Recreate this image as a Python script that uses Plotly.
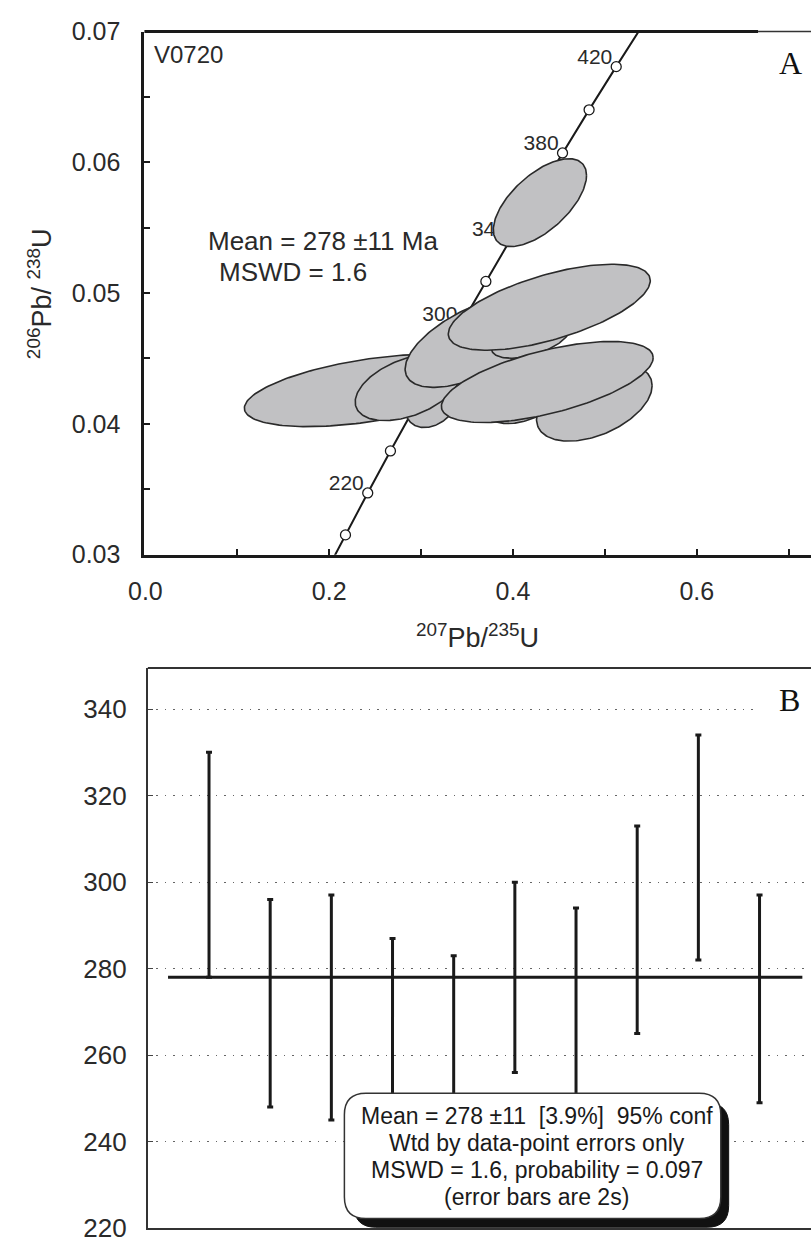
import numpy as np
import plotly.graph_objects as go

W, H = 811, 1252

# ---------------- Panel A data ----------------
# Wetherill concordia reference points (age in Ma)
conc_age = [180, 200, 220, 240, 260, 280, 300, 320, 340, 360, 380, 400, 420, 440]
conc_x = [0.19396, 0.21771, 0.24193, 0.26664, 0.29183, 0.31753, 0.34374,
          0.37047, 0.39773, 0.42553, 0.45389, 0.48281, 0.51231, 0.54239]
conc_y = [0.028316, 0.031511, 0.034716, 0.037932, 0.041157, 0.044392, 0.047637,
          0.050893, 0.054158, 0.057433, 0.060719, 0.064015, 0.067321, 0.070637]
marker_ages = [200, 220, 240, 260, 280, 300, 320, 340, 360, 380, 400, 420]
label_ages = [220, 260, 300, 340, 380, 420]

# Error ellipses (drawing order): centre, half-extent in x / y, correlation
ell_x = [0.2432, 0.3125, 0.2859, 0.3605, 0.4192, 0.4139, 0.4395, 0.4885, 0.4373, 0.4293]
ell_y = [0.04256, 0.04181, 0.04279, 0.04630, 0.04652, 0.04256, 0.04892, 0.04163, 0.04320, 0.05692]
ell_sx = [0.1355, 0.0299, 0.0576, 0.0779, 0.0427, 0.0480, 0.1099, 0.0629, 0.1152, 0.0507]
ell_sy = [0.00277, 0.00209, 0.00254, 0.00351, 0.00150, 0.00254, 0.00329, 0.00295, 0.00310, 0.00336]
ell_rho = [0.49, 0.30, 0.44, 0.60, 0.50, 0.40, 0.62, 0.44, 0.60, 0.62]

# ---------------- Panel B data ----------------
spot = [1, 2, 3, 4, 5, 6, 7, 8, 9, 10]
age = [304, 272, 271, 264, 260, 278, 270, 289, 308, 273]
err2s = [26, 24, 26, 23, 23, 22, 24, 24, 26, 24]
mean_age = 278
b_ticks = [220, 240, 260, 280, 300, 320, 340]

FONT = "Liberation Sans, Arial, sans-serif"
SERIF = "Liberation Serif, Times New Roman, serif"
INK = "#1a1a1a"
TXT = "#2a2a2a"


def px(x):
    return x / W


def py(y):
    return 1 - y / H


fig = go.Figure()

# concordia line
fig.add_trace(go.Scatter(x=conc_x, y=conc_y, mode="lines",
                         line=dict(color=INK, width=2), xaxis="x", yaxis="y",
                         hoverinfo="skip", showlegend=False))
mx = [conc_x[conc_age.index(a)] for a in marker_ages]
my = [conc_y[conc_age.index(a)] for a in marker_ages]
fig.add_trace(go.Scatter(x=mx, y=my, mode="markers",
                         marker=dict(symbol="circle", size=10, color="white",
                                     line=dict(color=INK, width=1.3)),
                         xaxis="x", yaxis="y", hoverinfo="skip", showlegend=False))
# age labels (just left of / above each marker)
lx = [conc_x[conc_age.index(a)] - 4 / 937.5 for a in label_ages]
ly = [conc_y[conc_age.index(a)] + 8 / 13375 for a in label_ages]
fig.add_trace(go.Scatter(x=lx, y=ly, mode="text", text=[str(a) for a in label_ages],
                         textposition="middle left",
                         textfont=dict(family=FONT, size=21, color=TXT),
                         xaxis="x", yaxis="y", hoverinfo="skip", showlegend=False))

# ellipses
t = np.linspace(0, 2 * np.pi, 181)
for cx, cy, sx, sy, r in zip(ell_x, ell_y, ell_sx, ell_sy, ell_rho):
    ex = cx + sx * np.cos(t)
    ey = cy + sy * (r * np.cos(t) + np.sqrt(1 - r * r) * np.sin(t))
    fig.add_trace(go.Scatter(x=ex, y=ey, mode="lines", fill="toself",
                             fillcolor="#c1c1c3", line=dict(color="#2a2a2a", width=1.6),
                             xaxis="x", yaxis="y", hoverinfo="skip", showlegend=False))

# ---------------- Panel B traces ----------------
fig.add_trace(go.Scatter(x=[0.33, 10.7], y=[mean_age, mean_age], mode="lines",
                         line=dict(color=INK, width=3), xaxis="x2", yaxis="y2",
                         hoverinfo="skip", showlegend=False))
fig.add_trace(go.Scatter(x=spot, y=age, mode="markers",
                         marker=dict(size=1, color="rgba(0,0,0,0)"),
                         error_y=dict(type="data", array=err2s, symmetric=True,
                                      color=INK, thickness=3, width=3),
                         xaxis="x2", yaxis="y2", hoverinfo="skip", showlegend=False))

# ---------------- Layout ----------------
ax_a_left, ax_a_top, ax_a_bottom = 131, 18, 553
ax_b_left, ax_b_top, ax_b_bottom = 134.5, 669, 1242

xa_range = [-1 / 937.5, (W - 132) / 937.5]
xb_range = [0, (W - ax_b_left) / 62.4]
yb_top = 220 + (ax_b_bottom - ax_b_top) / 4.425

fig.update_layout(
    width=W, height=H, margin=dict(l=0, r=0, t=0, b=0),
    paper_bgcolor="white", plot_bgcolor="white", showlegend=False,
    xaxis=dict(domain=[px(ax_a_left), 1], range=xa_range, anchor="y",
               tickmode="linear", tick0=0, dtick=0.2, tickformat=".1f",
               ticks="inside", ticklen=6, tickwidth=1.5, tickcolor=INK,
               minor=dict(tick0=0, dtick=0.1, ticks="inside", ticklen=6,
                          tickwidth=1.5, tickcolor=INK, showgrid=False),
               showline=True, linewidth=3, linecolor=INK, showgrid=False, zeroline=False,
               ticklabelstandoff=12,
               tickfont=dict(family=FONT, size=25, color=TXT)),
    yaxis=dict(domain=[py(ax_a_bottom), py(ax_a_top)], range=[0.03, 0.07], anchor="x",
               tickmode="linear", tick0=0.03, dtick=0.01, tickformat=".2f",
               ticks="inside", ticklen=6, tickwidth=1.5, tickcolor=INK,
               minor=dict(tick0=0.03, dtick=0.005, ticks="inside", ticklen=6,
                          tickwidth=1.5, tickcolor=INK, showgrid=False),
               showline=True, linewidth=3, linecolor=INK, showgrid=False, zeroline=False,
               ticklabelstandoff=16,
               tickfont=dict(family=FONT, size=25, color=TXT)),
    xaxis2=dict(domain=[px(ax_b_left), 1], range=xb_range, anchor="y2",
                showticklabels=False, ticks="", showgrid=False, zeroline=False,
                showline=True, linewidth=2, linecolor="#333"),
    yaxis2=dict(domain=[py(ax_b_bottom), py(ax_b_top)], range=[220, yb_top], anchor="x2",
                tickvals=b_ticks, ticks="inside", ticklen=5, tickwidth=1.2, tickcolor="#444",
                showline=True, linewidth=2, linecolor="#333", zeroline=False,
                showgrid=True, gridcolor="#666", gridwidth=1.3, griddash="1.5px,7px",
                ticklabelstandoff=14,
                tickfont=dict(family=FONT, size=26, color=TXT)),
)

shapes = []
# panel A top border (thick part, then thin part by the "A" label)
shapes.append(dict(type="line", xref="paper", yref="paper", x0=px(ax_a_left), x1=px(757),
                   y0=py(ax_a_top), y1=py(ax_a_top), line=dict(color=INK, width=3)))
shapes.append(dict(type="line", xref="paper", yref="paper", x0=px(757), x1=1,
                   y0=py(ax_a_top), y1=py(ax_a_top), line=dict(color="#333", width=1.5)))
# panel B top border
shapes.append(dict(type="line", xref="paper", yref="paper", x0=px(ax_b_left), x1=1,
                   y0=py(ax_b_top), y1=py(ax_b_top), line=dict(color="#333", width=2)))
# white patch behind the "B" label (hides the end of the 340 grid line)
shapes.append(dict(type="rect", xref="paper", yref="paper", x0=px(756), x1=1,
                   y0=py(728), y1=py(672), fillcolor="white", line=dict(width=0),
                   layer="above"))


def rounded_path(x0, y0, x1, y1, r):
    # pixel coordinates -> paper path with rounded corners
    rx, ry = r / W, r / H
    X0, X1 = px(x0), px(x1)
    Y0, Y1 = py(y0), py(y1)  # Y0 top (larger), Y1 bottom
    return (f"M {X0 + rx},{Y0} L {X1 - rx},{Y0} Q {X1},{Y0} {X1},{Y0 - ry} "
            f"L {X1},{Y1 + ry} Q {X1},{Y1} {X1 - rx},{Y1} "
            f"L {X0 + rx},{Y1} Q {X0},{Y1} {X0},{Y1 + ry} "
            f"L {X0},{Y0 - ry} Q {X0},{Y0} {X0 + rx},{Y0} Z")


# statistics box: shadow then box
shapes.append(dict(type="path", xref="paper", yref="paper",
                   path=rounded_path(345, 1114, 727, 1241, 22),
                   fillcolor="#111", line=dict(color="#111", width=1), layer="above"))
shapes.append(dict(type="path", xref="paper", yref="paper",
                   path=rounded_path(335, 1104, 719, 1232, 22),
                   fillcolor="white", line=dict(color="#333", width=1.5), layer="above"))
fig.update_layout(shapes=shapes)

ann = []
ann.append(dict(text="V0720", x=px(139), y=py(41), xref="paper", yref="paper",
                xanchor="left", yanchor="middle", showarrow=False,
                font=dict(family=FONT, size=24, color=TXT)))
ann.append(dict(text="Mean = 278 ±11 Ma", x=px(313), y=py(232), xref="paper", yref="paper",
                xanchor="center", yanchor="middle", showarrow=False,
                font=dict(family=FONT, size=26, color=TXT)))
ann.append(dict(text="MSWD = 1.6", x=px(283), y=py(264), xref="paper", yref="paper",
                xanchor="center", yanchor="middle", showarrow=False,
                font=dict(family=FONT, size=26, color=TXT)))
ann.append(dict(text="A", x=px(790), y=py(50), xref="paper", yref="paper",
                xanchor="center", yanchor="middle", showarrow=False,
                font=dict(family=SERIF, size=32, color="#111")))
ann.append(dict(text="B", x=px(789), y=py(702), xref="paper", yref="paper",
                xanchor="center", yanchor="middle", showarrow=False,
                font=dict(family=SERIF, size=32, color="#111")))
ann.append(dict(text="<sup>207</sup>Pb/<sup>235</sup>U", x=px(471), y=py(636),
                xref="paper", yref="paper", xanchor="center", yanchor="middle",
                showarrow=False, font=dict(family=FONT, size=27, color=TXT)))
ann.append(dict(text="<sup>206</sup>Pb/ <sup>238</sup>U", x=px(24), y=py(286),
                xref="paper", yref="paper", xanchor="center", yanchor="middle",
                textangle=-90, showarrow=False,
                font=dict(family=FONT, size=27, color=TXT)))
box_lines = ["Mean = 278 ±11  [3.9%]  95% conf",
             "Wtd by data-point errors only",
             "MSWD = 1.6, probability = 0.097",
             "(error bars are 2s)"]
for i, s in enumerate(box_lines):
    ann.append(dict(text=s.replace("  ", "&nbsp; "), x=px(531), y=py(1127 + 27.7 * i),
                    xref="paper", yref="paper", xanchor="center", yanchor="middle",
                    showarrow=False, font=dict(family=FONT, size=23, color="#1a1a1a")))
fig.update_layout(annotations=ann)

fig.write_html("out.html", config={"displayModeBar": False},
               post_script="document.body.style.margin='0';")
